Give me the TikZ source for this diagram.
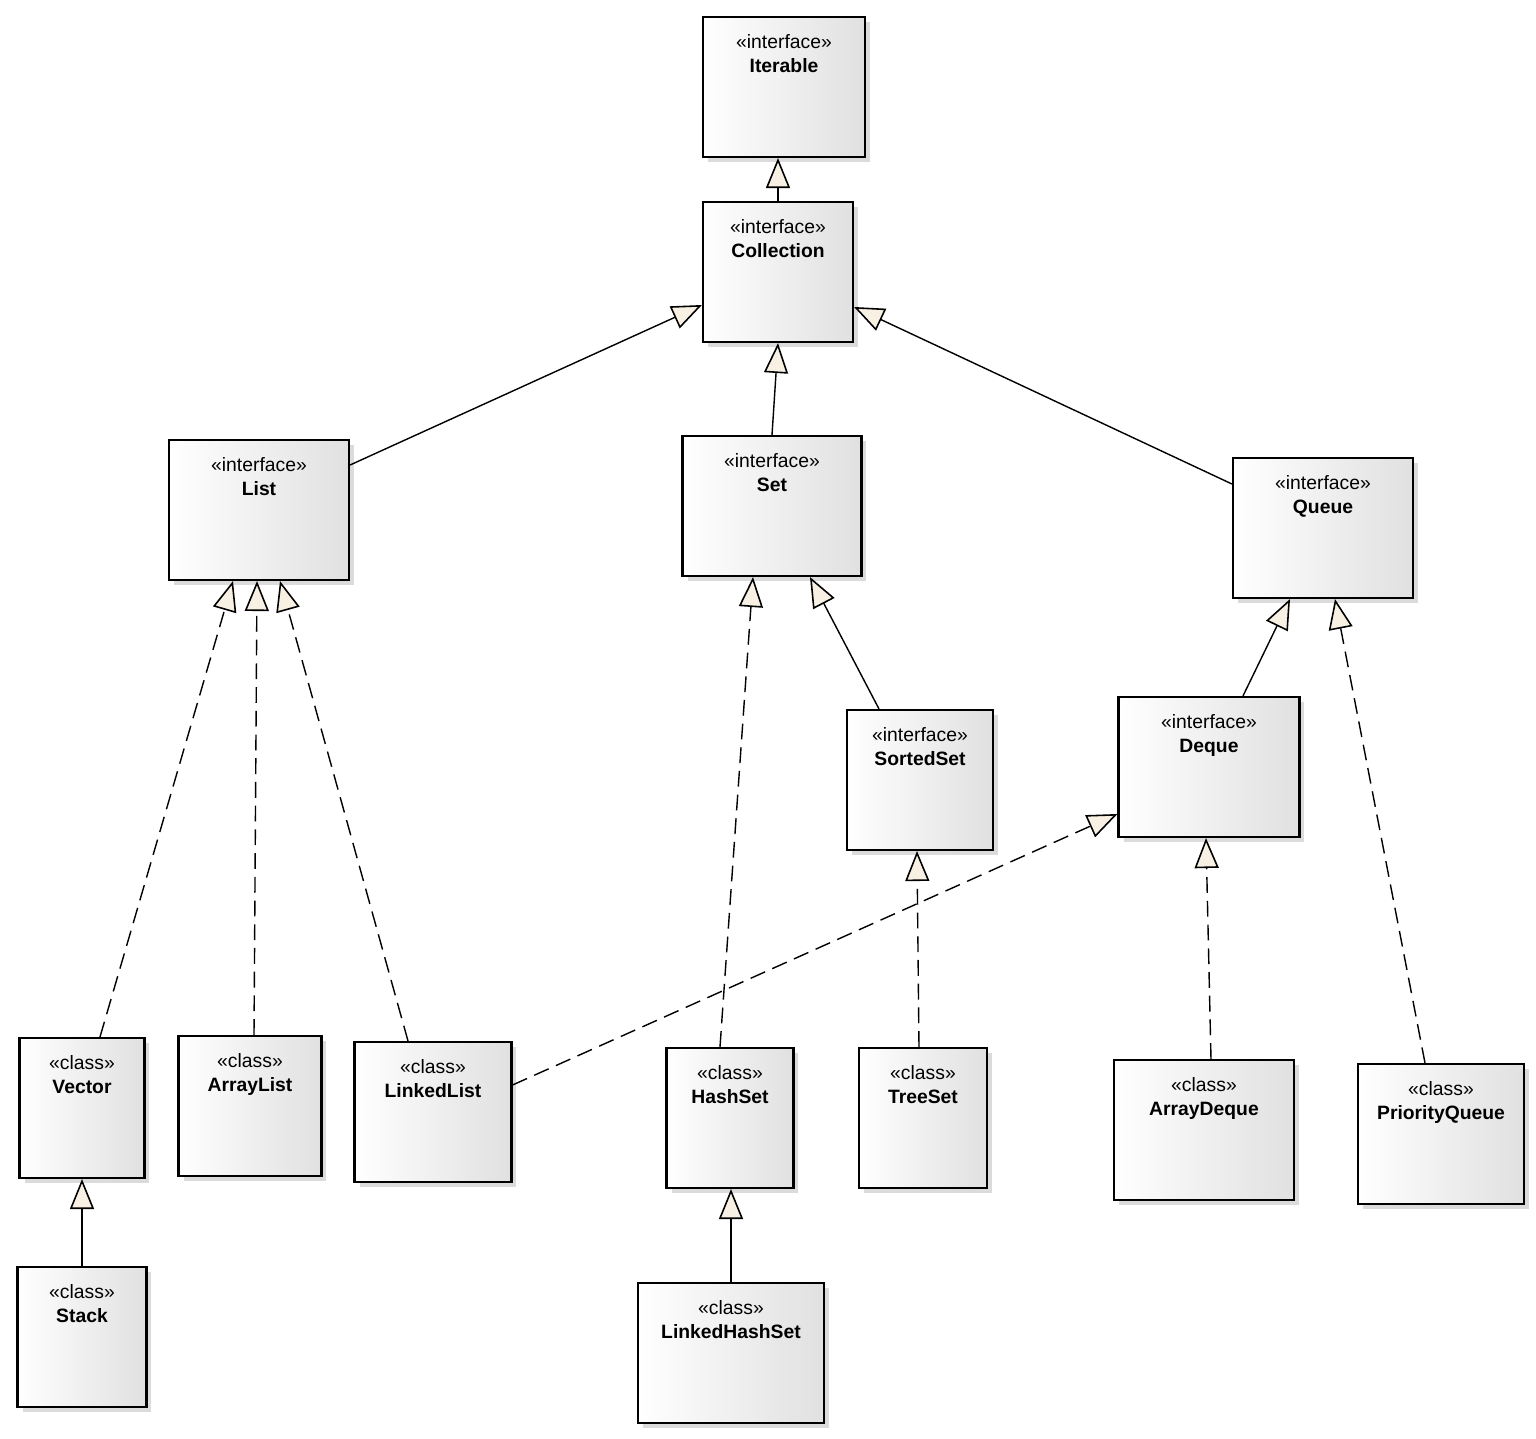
\documentclass[tikz,border=0pt]{standalone}
\usepackage{fontspec}
\setmainfont{Liberation Sans}
\usetikzlibrary{positioning,arrows.meta,shadows}
\definecolor{tipfill}{HTML}{F7F0E3}
\begin{document}
\begin{tikzpicture}[
  x=0.02cm, y=-0.02cm,
  font=\fontsize{11}{14}\selectfont,
  box/.style={draw, line width=1.2pt, minimum height=2.8cm, inner sep=0pt,
    left color=white, right color=black!12,
    drop shadow={shadow xshift=0.1cm, shadow yshift=-0.1cm, fill=black!14, opacity=1}},
  lbl/.style={anchor=north, align=center, yshift=-0.24cm},
  gen/.style={-{Triangle[length=0.6cm, width=0.48cm, fill=tipfill, line width=0.9pt]}, line width=0.8pt},
  real/.style={gen, dash pattern=on 9pt off 4.5pt}
]
\useasboundingbox (0,0) rectangle (1536,1439);
% interfaces
\node[box, minimum width=3.24cm, label={[lbl]north:«interface»\\\textbf{Iterable}}] (iterable) at (784,87) {};
\node[box, minimum width=3.0cm, label={[lbl]north:«interface»\\\textbf{Collection}}] (collection) at (778,272) {};
\node[box, minimum width=3.6cm, label={[lbl]north:«interface»\\\textbf{List}}] (list) at (259,510) {};
\node[box, minimum width=3.58cm, label={[lbl]north:«interface»\\\textbf{Set}}] (set) at (772,506) {};
\node[box, minimum width=3.6cm, label={[lbl]north:«interface»\\\textbf{Queue}}] (queue) at (1323,528) {};
\node[box, minimum width=2.92cm, label={[lbl]north:«interface»\\\textbf{SortedSet}}] (sortedset) at (920,780) {};
\node[box, minimum width=3.62cm, label={[lbl]north:«interface»\\\textbf{Deque}}] (deque) at (1209,767) {};
% classes
\node[box, minimum width=2.5cm, label={[lbl]north:«class»\\\textbf{Vector}}] (vector) at (82,1108) {};
\node[box, minimum width=2.86cm, label={[lbl]north:«class»\\\textbf{ArrayList}}] (arraylist) at (250,1106) {};
\node[box, minimum width=3.14cm, label={[lbl]north:«class»\\\textbf{LinkedList}}] (linkedlist) at (433,1112) {};
\node[box, minimum width=2.54cm, label={[lbl]north:«class»\\\textbf{HashSet}}] (hashset) at (730,1118) {};
\node[box, minimum width=2.56cm, label={[lbl]north:«class»\\\textbf{TreeSet}}] (treeset) at (923,1118) {};
\node[box, minimum width=3.6cm, label={[lbl]north:«class»\\\textbf{ArrayDeque}}] (arraydeque) at (1204,1130) {};
\node[box, minimum width=3.32cm, label={[lbl]north:«class»\\\textbf{PriorityQueue}}] (priorityqueue) at (1441,1134) {};
\node[box, minimum width=2.58cm, label={[lbl]north:«class»\\\textbf{Stack}}] (stack) at (82,1337) {};
\node[box, minimum width=3.72cm, label={[lbl]north:«class»\\\textbf{LinkedHashSet}}] (linkedhashset) at (731,1353) {};
% generalization
\draw[gen] (collection.north) -- (collection.north |- iterable.south);
\draw[gen] ([yshift=0.9cm]list.east) -- ([yshift=-0.66cm]collection.west);
\draw[gen] (set.north) -- (collection.south);
\draw[gen] ([yshift=0.88cm]queue.west) -- ([yshift=-0.7cm]collection.east);
\draw[gen] ([xshift=-0.82cm]sortedset.north) -- ([xshift=0.76cm]set.south);
\draw[gen] ([xshift=0.68cm]deque.north) -- ([xshift=-0.66cm]queue.south);
\draw[gen] (stack.north) -- (vector.south);
\draw[gen] (linkedhashset.north) -- (linkedhashset.north |- hashset.south);
% realization
\draw[real] ([xshift=0.36cm]vector.north) -- ([xshift=-0.52cm]list.south);
\draw[real] ([xshift=0.08cm]arraylist.north) -- ([xshift=-0.04cm]list.south);
\draw[real] ([xshift=-0.5cm]linkedlist.north) -- ([xshift=0.42cm]list.south);
\draw[real] ([xshift=-0.2cm]hashset.north) -- ([xshift=-0.38cm]set.south);
\draw[real] ([yshift=0.54cm]linkedlist.east) -- ([yshift=-0.94cm]deque.west);
\draw[real] ([xshift=-0.08cm]treeset.north) -- ([xshift=-0.06cm]sortedset.south);
\draw[real] ([xshift=0.14cm]arraydeque.north) -- ([xshift=-0.06cm]deque.south);
\draw[real] ([xshift=-0.32cm]priorityqueue.north) -- ([xshift=0.24cm]queue.south);
\end{tikzpicture}
\end{document}
